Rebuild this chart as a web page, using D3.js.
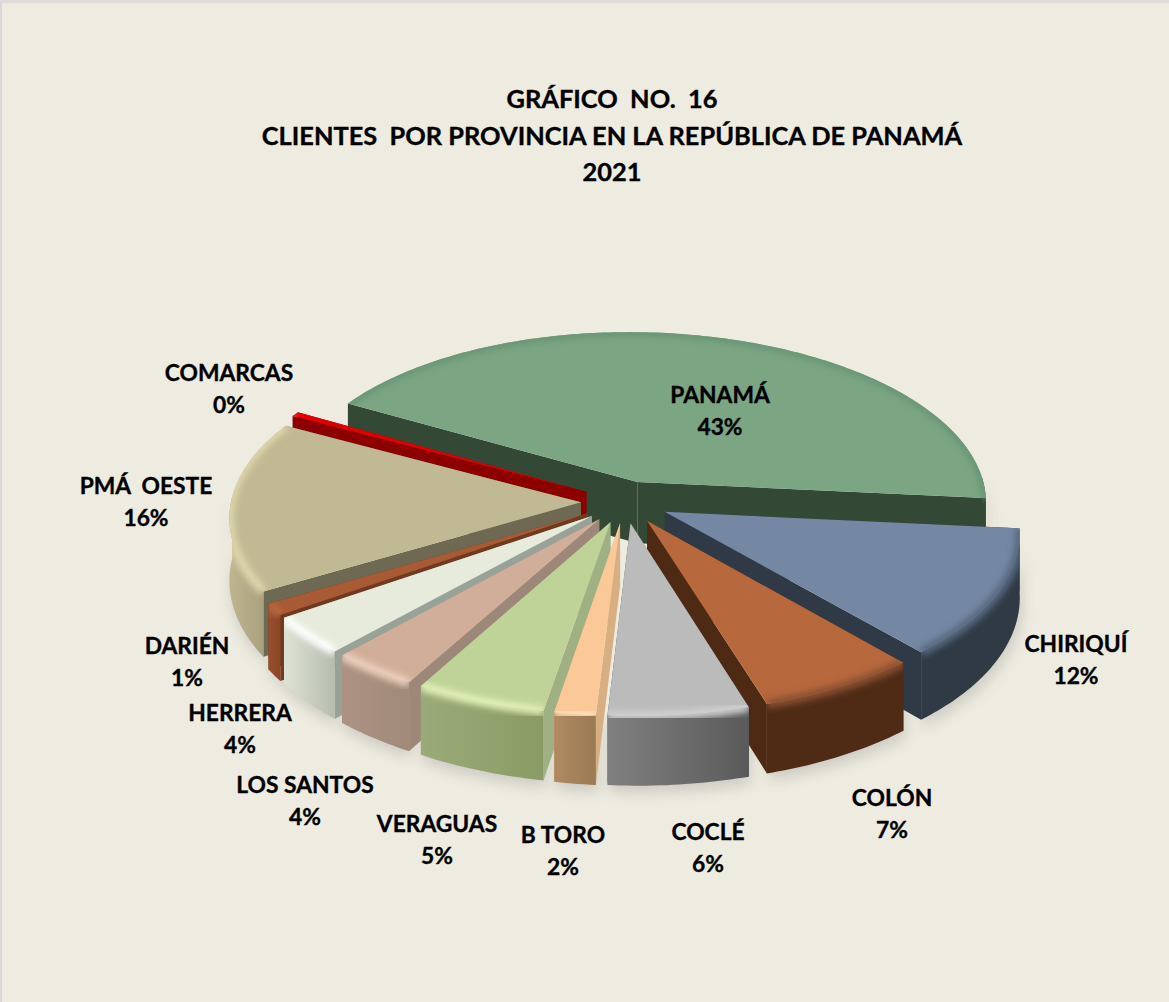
<!DOCTYPE html>
<html>
<head>
<meta charset="utf-8">
<script src="https://cdn.jsdelivr.net/npm/d3@7"></script>
<style>
    html, body { margin: 0; padding: 0; background: #eeebe0; }
    svg { display: block; }
    text { font-family: Lato, "Open Sans", sans-serif; font-weight: 700; fill: #000; stroke: #000; stroke-width: 0.35px; text-anchor: middle; }
</style>
</head>
<body>
<svg id="chart" width="1169" height="1002"></svg>
<script>
var titleLines = ['GRÁFICO  NO.  16', 'CLIENTES  POR PROVINCIA EN LA REPÚBLICA DE PANAMÁ', '2021'];

var provinces = ['PANAMÁ', 'CHIRIQUÍ', 'COLÓN', 'COCLÉ', 'B TORO', 'VERAGUAS', 'LOS SANTOS', 'HERRERA', 'DARIÉN', 'PMÁ  OESTE', 'COMARCAS'];
var shares = [43.2, 12.2, 6.7, 5.8, 1.7, 5.4, 3.6, 3.6, 1.1, 16.25, 0.45];

var topColors = ['#7ba583', '#7487a3', '#b7683d', '#bbbbbb', '#fbc897', '#bfd297', '#d1ae9a', '#e6ebdb', '#a85a34', '#c1b993', '#e00000'];
var cutColors = ['#344935', '#2f3a46', '#4e2a15', '#555555', '#d8ae83', '#9fb083', '#9c8779', '#98a298', '#6f3a20', '#6d6953', '#8c0000'];
var wallLeft = ['#344935', '#2f3a46', '#4f2b16', '#808080', '#b08a62', '#9aab79', '#ad9283', '#dde2d4', '#97502e', '#bdb48e', '#8c0000'];
var wallRight = ['#344935', '#303a45', '#4f2b16', '#5a5a5a', '#9a7a55', '#8a9b65', '#a08a7a', '#b6bcae', '#8a4526', '#a9a07f', '#8c0000'];
var rimColors = ['#6a9574', '#56677f', '#8a5030', '#d0d0d0', '#ffe0b8', '#e2f0b8', '#ecd0bd', '#ffffff', '#b8683f', '#ded6ac', '#ff2020'];

// label centres, one per province
var labelX = [720, 1076, 892, 708, 563, 437, 305, 240, 187, 146, 229];
var labelY = [395, 644, 798, 832, 835, 824, 785, 713, 646, 486, 373];

var width = 1169, height = 1002;
var cx = 625, cy = 502;
var radius = 350, explode = 44, depth = 62;
var tilt = 0.482, persp = 0.1, shear = 0.02;

var svg = d3.select('#chart');
var defs = svg.append('defs');

defs.append('filter').attr('id', 'soft').attr('x', '-20%').attr('y', '-20%').attr('width', '140%').attr('height', '140%')
    .append('feGaussianBlur').attr('stdDeviation', 3);
defs.append('filter').attr('id', 'shadow').attr('x', '-20%').attr('y', '-20%').attr('width', '140%').attr('height', '140%')
    .append('feGaussianBlur').attr('stdDeviation', 7);

// page, with the grey edge on the top and left only
svg.append('rect').attr('width', width).attr('height', height).attr('fill', '#eeebe0');
svg.append('rect').attr('width', width).attr('height', 3).attr('fill', '#dedcd8');
svg.append('rect').attr('width', 2).attr('height', height).attr('fill', '#d9d9d9');

svg.selectAll('text.title')
    .data(titleLines)
    .enter().append('text')
    .attr('class', 'title')
    .attr('x', 612)
    .attr('y', function(d, i) { return [108, 145, 181][i]; })
    .attr('font-size', 25.4)
    .attr('xml:space', 'preserve')
    .style('white-space', 'pre')
    .text(function(d) { return d; });

var pie = d3.pie()
    .sort(null)
    .value(function(d) { return d; })
    .startAngle(-60 * Math.PI / 180)
    .endAngle(300 * Math.PI / 180);

var slices = pie(shares);

function project(x, y, z) {
    var s = 1 / (1 + persp * y / radius);
    return [cx + s * x - shear * y, cy - s * tilt * y + s * z];
}

function sliceGeometry(d) {
    var mid = (d.startAngle + d.endAngle) / 2;
    var ox = explode * Math.sin(mid), oy = explode * Math.cos(mid);
    function rim(a, z) { return project(ox + radius * Math.sin(a), oy + radius * Math.cos(a), z); }
    function apex(z) { return project(ox, oy, z); }
    function arcPoints(a0, a1, z) {
        var n = Math.max(2, Math.ceil((a1 - a0) * 60));
        return d3.range(n + 1).map(function(i) { return rim(a0 + (a1 - a0) * i / n, z); });
    }
    return { mid: mid, rim: rim, apex: apex, arcPoints: arcPoints };
}

var line = d3.line();
function closed(points) { return line(points) + 'Z'; }

// outer wall only shows on the front half
var frontFrom = 88 * Math.PI / 180, frontTo = 272 * Math.PI / 180;

var drawn = slices.map(function(d, i) {
    var g = sliceGeometry(d);
    var top = closed([g.apex(0)].concat(g.arcPoints(d.startAngle, d.endAngle, 0)));
    var wall = null, rimLine = line(g.arcPoints(d.startAngle, d.endAngle, 0));
    var a0 = Math.max(d.startAngle, frontFrom), a1 = Math.min(d.endAngle, frontTo);
    if (a1 > a0) {
        wall = closed(g.arcPoints(a0, a1, 0).concat(g.arcPoints(a0, a1, depth).reverse()));
    }
    var cutA = closed([g.apex(0), g.rim(d.startAngle, 0), g.rim(d.startAngle, depth), g.apex(depth)]);
    var cutB = closed([g.apex(0), g.rim(d.endAngle, 0), g.rim(d.endAngle, depth), g.apex(depth)]);
    return { i: i, g: g, top: top, wall: wall, rimLine: rimLine, cutA: cutA, cutB: cutB, a0: a0, a1: a1 };
});

// soft shadow on the page under the front walls
svg.append('g').attr('filter', 'url(#shadow)').attr('opacity', 0.28)
    .attr('transform', 'translate(2,7)')
    .selectAll('path')
    .data(drawn.filter(function(d) { return d.wall; }))
    .enter().append('path')
    .attr('d', function(d) { return d.wall; })
    .attr('fill', '#777');

// back to front
var order = drawn.slice().sort(function(a, b) { return Math.cos(b.g.mid) - Math.cos(a.g.mid); });

order.forEach(function(s) {
    var i = s.i;
    var g = svg.append('g').attr('class', 'slice');

    if (s.wall) {
        var left = s.g.rim(s.a1, 0)[0], right = s.g.rim(s.a0, 0)[0];
        var grad = defs.append('linearGradient').attr('id', 'wall' + i)
            .attr('gradientUnits', 'userSpaceOnUse')
            .attr('x1', Math.min(left, right)).attr('x2', Math.max(left, right))
            .attr('y1', 0).attr('y2', 0);
        grad.append('stop').attr('offset', 0).attr('stop-color', wallLeft[i]);
        grad.append('stop').attr('offset', 1).attr('stop-color', wallRight[i]);
    }

    g.append('path').attr('d', s.cutA).attr('fill', cutColors[i]);
    g.append('path').attr('d', s.cutB).attr('fill', cutColors[i]);
    if (s.wall) g.append('path').attr('d', s.wall).attr('fill', 'url(#wall' + i + ')');
    g.append('path').attr('d', s.top).attr('fill', topColors[i]);

    // bevel along the rim, kept inside this slice
    var clip = defs.append('clipPath').attr('id', 'clip' + i);
    clip.append('path').attr('d', s.top);
    if (s.wall) clip.append('path').attr('d', s.wall);
    g.append('g').attr('clip-path', 'url(#clip' + i + ')')
        .append('path')
        .attr('d', s.rimLine)
        .attr('fill', 'none')
        .attr('stroke', rimColors[i])
        .attr('stroke-width', 9)
        .attr('filter', 'url(#soft)');
});

// labels
var fmt = d3.format('.0f');
var labels = svg.append('g').selectAll('g')
    .data(provinces)
    .enter().append('g');

labels.append('text')
    .attr('x', function(d, i) { return labelX[i]; })
    .attr('y', function(d, i) { return labelY[i] + 8; })
    .attr('font-size', 22.8)
    .attr('xml:space', 'preserve')
    .style('white-space', 'pre')
    .text(function(d) { return d; });

labels.append('text')
    .attr('x', function(d, i) { return labelX[i]; })
    .attr('y', function(d, i) { return labelY[i] + 40; })
    .attr('font-size', 22.8)
    .text(function(d, i) { return fmt(shares[i]) + '%'; });
</script>
</body>
</html>
